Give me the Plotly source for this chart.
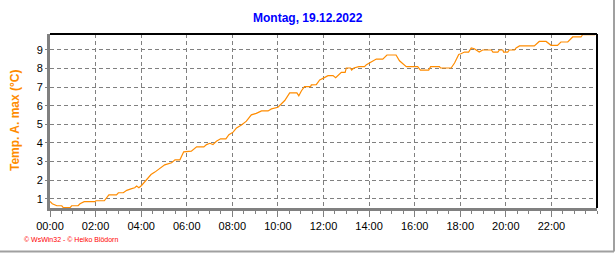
import plotly.graph_objects as go

# ---- data ----
times = ["00:00","00:06","00:18","00:31","00:35","00:53","00:57","01:14","01:19","01:30",
         "01:58","02:01","02:23","02:35","02:55","03:00","03:13","03:22","03:35","03:43",
         "03:48","03:54","04:01","04:14","04:26","04:36","04:49","05:02","05:20","05:29",
         "05:42","05:50","05:52","06:12","06:26","06:45","06:52","07:01","07:09","07:18",
         "07:29","07:43","07:51","08:02","08:11","08:24","08:37","08:50","09:03","09:17",
         "09:34","09:43","10:00","10:18","10:31","10:50","10:55","11:02","11:10","11:26",
         "11:28","11:41","11:50","12:01","12:12","12:25","12:32","12:47","12:57","13:00",
         "13:11","13:14","13:20","13:33","13:48","13:53","14:03","14:10","14:19","14:36",
         "14:47","15:11","15:20","15:38","16:08","16:15","16:37","16:42","17:05","17:08",
         "17:36","17:45","17:56","18:02","18:11","18:22","18:29","18:37","18:50","18:59",
         "19:22","19:26","19:39","19:43","19:52","19:54","20:05","20:09","20:23","20:27",
         "20:36","21:15","21:28","21:46","21:59","22:16","22:25","22:43","22:56","23:18",
         "23:22","23:55"]
temps = [0.85,0.73,0.62,0.62,0.52,0.52,0.62,0.62,0.73,0.84,
         0.84,0.89,0.89,1.21,1.21,1.32,1.32,1.45,1.54,1.59,
         1.68,1.59,1.71,2.02,2.30,2.43,2.61,2.82,2.93,3.09,
         3.09,3.45,3.52,3.56,3.79,3.79,3.91,3.98,3.91,4.09,
         4.22,4.22,4.44,4.58,4.81,4.97,5.17,5.51,5.59,5.72,
         5.72,5.83,5.92,6.28,6.69,6.69,6.54,6.81,7.03,7.03,
         7.12,7.14,7.39,7.50,7.62,7.62,7.51,7.80,7.80,8.03,
         8.03,7.92,8.03,8.10,8.10,8.21,8.33,8.42,8.51,8.51,
         8.73,8.73,8.42,8.10,8.10,7.92,7.92,8.10,8.10,8.03,
         8.03,8.30,8.76,8.80,8.89,8.89,9.11,9.07,8.89,9.00,
         9.00,8.89,8.89,9.00,9.00,8.89,8.89,9.00,9.00,9.11,
         9.22,9.22,9.46,9.46,9.25,9.25,9.43,9.43,9.70,9.70,
         9.82,9.82]
day = "2022-12-19"
x_ticks = ["00:00","02:00","04:00","06:00","08:00","10:00","12:00","14:00","16:00","18:00","20:00","22:00"]
y_ticks = [1,2,3,4,5,6,7,8,9]
title_text = "Montag, 19.12.2022"
y_title = "Temp. A. max (°C)"
footer = "© WsWin32 - © Heiko Blödorn"

xs = [f"{day} {t}" for t in times]

W, H = 616, 253
L, R, T, B = 50, 19, 34, 45
pw, ph = W - L - R, H - T - B

fig = go.Figure()
fig.add_trace(go.Scatter(x=xs, y=temps, mode="lines",
                         line=dict(color="#FF8C00", width=1.2), hoverinfo="skip"))

font = "Liberation Sans, Arial, sans-serif"
fig.update_layout(
    width=W, height=H, margin=dict(l=L, r=R, t=T, b=B),
    paper_bgcolor="white", plot_bgcolor="white", showlegend=False,
    xaxis=dict(
        type="date", range=[f"{day} 00:00", "2022-12-20 00:00"],
        tickvals=[f"{day} {t}" for t in x_ticks], ticktext=x_ticks,
        showgrid=True, gridcolor="#808080", griddash="4px,3px", gridwidth=1,
        showline=True, linecolor="#808080", linewidth=3,
        ticks="outside", ticklen=6, tickcolor="#808080", tickwidth=1,
        minor=dict(dtick=1800000, ticks="outside", ticklen=3, tickcolor="#808080", showgrid=False),
        tickfont=dict(family=font, size=11, color="black"),
        zeroline=False, fixedrange=True,
    ),
    yaxis=dict(
        range=[0.5, 9.86], tickvals=y_ticks, ticktext=[str(v) for v in y_ticks],
        showgrid=True, gridcolor="#808080", griddash="4px,3px", gridwidth=1,
        showline=True, linecolor="#808080", linewidth=3,
        ticks="outside", ticklen=2, tickcolor="#808080",
        tickfont=dict(family=font, size=11, color="black"),
        zeroline=False, fixedrange=True,
    ),
    shapes=[
        # top and right black borders
        dict(type="line", xref="paper", yref="paper", x0=0, x1=1, y0=1, y1=1,
             line=dict(color="black", width=2)),
        dict(type="line", xref="paper", yref="paper", x0=1, x1=1, y0=0, y1=1,
             line=dict(color="black", width=2)),
        # outer gray frame (right, bottom)
        dict(type="line", xref="paper", yref="paper",
             x0=(614 - L) / pw, x1=(614 - L) / pw, y0=(H - B) / ph, y1=-(251.5 - (H - B)) / ph,
             line=dict(color="#A0A0A0", width=2)),
        dict(type="line", xref="paper", yref="paper",
             x0=-L / pw, x1=(614 - L) / pw, y0=-(251.5 - (H - B)) / ph, y1=-(251.5 - (H - B)) / ph,
             line=dict(color="#A0A0A0", width=2)),
    ],
    annotations=[
        dict(text=f"<b>{title_text}</b>", xref="paper", yref="paper",
             x=(308 - L) / pw, y=(H - B - 18) / ph, xanchor="center", yanchor="middle",
             showarrow=False, font=dict(family=font, size=12, color="#0000FF")),
        dict(text=f"<b>{y_title}</b>", xref="paper", yref="paper",
             x=(15 - L) / pw, y=0.5, xanchor="center", yanchor="middle", textangle=-90,
             showarrow=False, font=dict(family=font, size=12, color="#FF8C00")),
        dict(text=footer, xref="paper", yref="paper",
             x=(22 - L) / pw, y=-(239 - (H - B)) / ph, xanchor="left", yanchor="middle",
             showarrow=False, font=dict(family=font, size=7, color="#FF0000")),
    ],
)

fig.write_html("out.html")
